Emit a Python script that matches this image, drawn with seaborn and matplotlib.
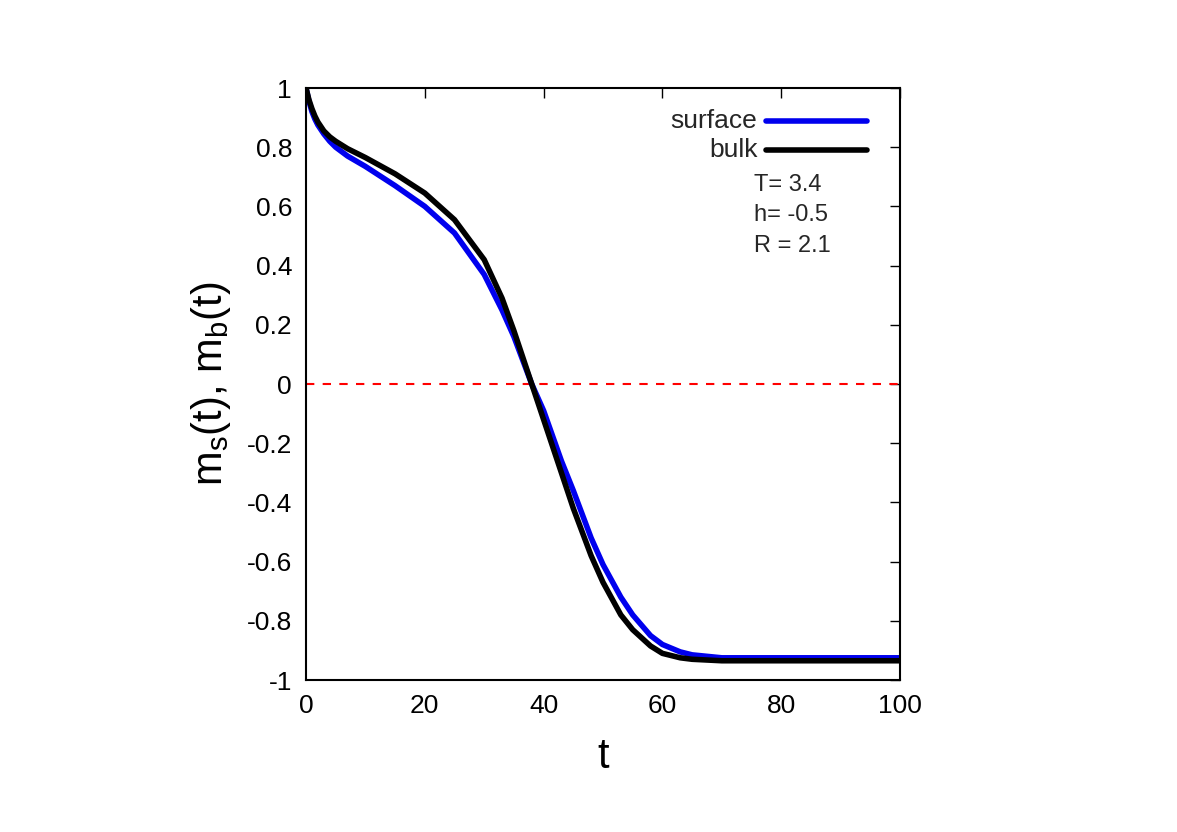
import matplotlib
matplotlib.use("Agg")
import matplotlib.pyplot as plt
import seaborn as sns
import pandas as pd

t = [0, 0.5, 1, 1.5, 2, 3, 4, 5, 7, 10, 15, 20, 25, 30, 33, 35, 38, 40, 43, 45, 48, 50, 53, 55, 58, 60, 63, 65, 70, 80, 90, 100]
bulk = [1.0, 0.96, 0.93, 0.905, 0.885, 0.855, 0.835, 0.82, 0.795, 0.765, 0.71, 0.645, 0.555, 0.42, 0.29, 0.18, 0.0, -0.12, -0.30, -0.42, -0.58, -0.67, -0.78, -0.83, -0.885, -0.91, -0.925, -0.93, -0.935, -0.935, -0.935, -0.935]
surface = [1.0, 0.955, 0.92, 0.895, 0.875, 0.845, 0.82, 0.80, 0.77, 0.735, 0.67, 0.60, 0.51, 0.37, 0.25, 0.16, 0.0, -0.09, -0.26, -0.36, -0.52, -0.61, -0.72, -0.78, -0.85, -0.88, -0.905, -0.915, -0.925, -0.925, -0.925, -0.925]

df = pd.DataFrame({"t": t * 2, "m": surface + bulk,
                   "series": ["surface"] * len(t) + ["bulk"] * len(t)})

sns.set_style("white")
plt.rcParams['font.family'] = ['Liberation Sans', 'DejaVu Sans']
plt.rcParams['mathtext.fontset'] = 'custom'
plt.rcParams['mathtext.rm'] = 'Liberation Sans'
fig = plt.figure(figsize=(11.77, 8.32), dpi=100)
ax = fig.add_axes([306/1177, 1-680/832, 594/1177, 592/832])
ax.axhline(0, color="red", ls=(0, (4, 4)), lw=1.5)
sns.lineplot(data=df, x="t", y="m", hue="series", palette={"surface": "#0000ee", "bulk": "black"},
             lw=4, ax=ax, legend=False)
ax.set_xlim(0, 100)
ax.set_ylim(-1, 1)
ax.set_xticks([0, 20, 40, 60, 80, 100])
ax.set_yticks([-1, -0.8, -0.6, -0.4, -0.2, 0, 0.2, 0.4, 0.6, 0.8, 1])
ax.set_yticklabels(["-1", "-0.8", "-0.6", "-0.4", "-0.2", "0", "0.2", "0.4", "0.6", "0.8", "1"])
ax.tick_params(direction="in", top=True, right=True, labelsize=19, length=7, width=1,
               colors="black", pad=10)
for s in ax.spines.values():
    s.set_linewidth(1.5); s.set_color("black")
ax.set_xlabel("t", fontsize=30, color="black", labelpad=14)
ax.set_ylabel(r"m$_\mathregular{s}$(t), m$_\mathregular{b}$(t)", fontsize=30, color="black", labelpad=10)
ax.text(0.76, 0.945, "surface", transform=ax.transAxes, ha="right", va="center", fontsize=19)
ax.plot([0.775, 0.945], [0.945, 0.945], transform=ax.transAxes, color="#0000ee", lw=4)
ax.text(0.76, 0.895, "bulk", transform=ax.transAxes, ha="right", va="center", fontsize=19)
ax.plot([0.775, 0.945], [0.895, 0.895], transform=ax.transAxes, color="black", lw=4)
ax.text(0.755, 0.785, "T= 3.4\nh= -0.5\nR = 2.1", transform=ax.transAxes, ha="left", va="center",
        fontsize=17, linespacing=1.5)
fig.savefig("out.png", dpi=100)
